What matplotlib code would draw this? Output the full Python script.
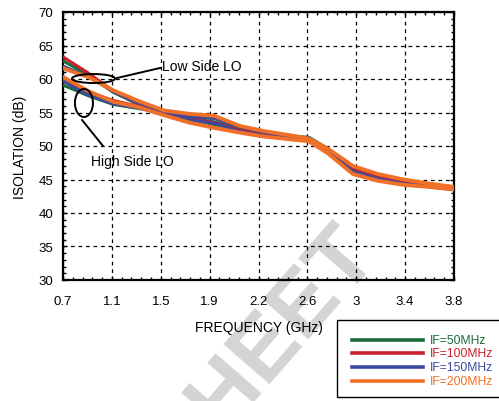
import matplotlib
matplotlib.use("Agg")
import matplotlib.pyplot as plt
from matplotlib.patches import Ellipse, Rectangle
from matplotlib.lines import Line2D
from matplotlib.ticker import AutoMinorLocator
import numpy as np

plt.rcParams['font.family'] = ['Liberation Sans', 'DejaVu Sans']

# data (frequency in GHz, isolation in dB)
freq = [0.7, 0.9, 1.1, 1.3, 1.5, 1.7, 1.9, 2.1, 2.3, 2.5, 2.65, 2.8, 3.0, 3.2, 3.4, 3.6, 3.8]

# low side LO
green_low  = [62.7, 60.6, 58.0, 56.2, 55.0, 54.2, 53.6, 52.6, 52.0, 51.5, 51.3, 49.6, 46.6, 45.4, 44.5, 44.0, 43.7]
red_low    = [63.3, 60.9, 58.2, 56.3, 54.9, 54.0, 53.4, 52.4, 51.8, 51.3, 51.0, 49.3, 46.4, 45.3, 44.6, 44.2, 43.9]
blue_low   = [61.9, 60.4, 58.1, 56.4, 55.1, 54.4, 54.1, 52.9, 52.0, 51.4, 50.9, 49.2, 46.2, 45.1, 44.4, 44.0, 43.6]
orange_low = [61.6, 60.3, 58.3, 56.7, 55.3, 54.8, 54.5, 53.0, 52.2, 51.6, 51.1, 49.6, 47.0, 45.8, 45.0, 44.4, 43.9]

# high side LO
green_high  = [59.1, 57.5, 56.2, 55.6, 54.9, 54.0, 53.2, 52.5, 51.9, 51.3, 51.2, 49.5, 46.7, 45.4, 44.5, 44.0, 43.8]
red_high    = [60.0, 58.0, 56.8, 55.9, 54.8, 54.1, 53.5, 52.3, 51.6, 51.2, 50.9, 49.2, 46.3, 45.2, 44.5, 44.1, 43.7]
blue_high   = [59.7, 57.6, 56.3, 55.7, 54.7, 53.9, 53.4, 52.2, 51.5, 51.1, 50.8, 49.0, 45.9, 44.9, 44.3, 43.9, 43.5]
orange_high = [60.3, 58.2, 56.6, 55.8, 54.6, 53.5, 52.7, 52.0, 51.4, 51.0, 50.7, 48.9, 45.8, 44.8, 44.2, 43.9, 43.5]

labels = ['IF=50MHz', 'IF=100MHz', 'IF=150MHz', 'IF=200MHz']
colors = ['#1b6b3a', '#c8202c', '#3b4a9e', '#f07028']

xtick_labels = ['0.7', '1.1', '1.5', '1.9', '2.2', '2.6', '3', '3.4', '3.8']

fig = plt.figure(figsize=(4.99, 4.02), dpi=100)
W, H = 499.0, 402.0
ax = fig.add_axes([63/W, 1-281/H, 391/W, 268/H])
ax.set_facecolor('none')

# watermark behind everything
fig.text(362/W, 1-240/H, 'SHEET', color='#d4d4d4', fontsize=64, fontweight='bold',
         rotation=49, rotation_mode='anchor', ha='right', va='center', zorder=-5)

lows = [green_low, red_low, blue_low, orange_low]
highs = [green_high, red_high, blue_high, orange_high]
for i in range(4):
    lw = 2.8 if i == 3 else 2.2
    ax.plot(freq, highs[i], color=colors[i], lw=lw, zorder=3 + i)
    ax.plot(freq, lows[i], color=colors[i], lw=lw, zorder=3 + i)

ax.set_xlim(0.7, 3.8)
ax.set_ylim(30, 70)
ax.set_xticks(np.linspace(0.7, 3.8, 9))
ax.set_xticklabels(xtick_labels)
ax.set_yticks(range(30, 71, 5))
ax.xaxis.set_minor_locator(AutoMinorLocator(5))
ax.yaxis.set_minor_locator(AutoMinorLocator(5))
ax.tick_params(which='both', direction='in', top=True, right=True)
ax.tick_params(which='major', length=3, width=1)
ax.tick_params(which='minor', length=2.5, width=1)
ax.tick_params(axis='x', which='major', labelsize=9.5, pad=11)
ax.tick_params(axis='y', which='major', labelsize=9.5, pad=7)
ax.grid(True, which='major', color='black', linestyle=(0, (3, 3)), linewidth=0.9)
for s in ax.spines.values():
    s.set_linewidth(1.6)

ax.set_xlabel('FREQUENCY (GHz)', fontsize=10, labelpad=9)
ax.set_ylabel('ISOLATION (dB)', fontsize=10, labelpad=8)

# annotations
ax.add_patch(Ellipse((0.942, 60.07), 0.341, 1.34, fill=False, ec='black', lw=1.4, zorder=10))
ax.add_patch(Ellipse((0.866, 56.42), 0.143, 4.18, fill=False, ec='black', lw=1.4, zorder=10))
ax.plot([1.128, 1.469], [60.15, 61.64], color='black', lw=1.4, zorder=10)
ax.plot([0.851, 1.017], [53.88, 50.0], color='black', lw=1.4, zorder=10)
ax.text(1.485, 61.94, 'Low Side LO', fontsize=10, ha='left', va='center', zorder=11)
ax.text(0.922, 47.76, 'High Side LO', fontsize=10, ha='left', va='center', zorder=11)

# legend box
fig.add_artist(Rectangle((337/W, 1-398/H), 170/W, 77/H, transform=fig.transFigure,
                         fill=False, ec='black', lw=1.0))
rows = [341, 354, 368, 382]
for i in range(4):
    y = 1 - rows[i]/H
    fig.add_artist(Line2D([352/W, 423/W], [y, y], transform=fig.transFigure,
                          color=colors[i], lw=2.6))
    fig.text(430/W, y, labels[i], color=colors[i], fontsize=8.7, ha='left', va='center')

fig.savefig('out.png', dpi=100)
